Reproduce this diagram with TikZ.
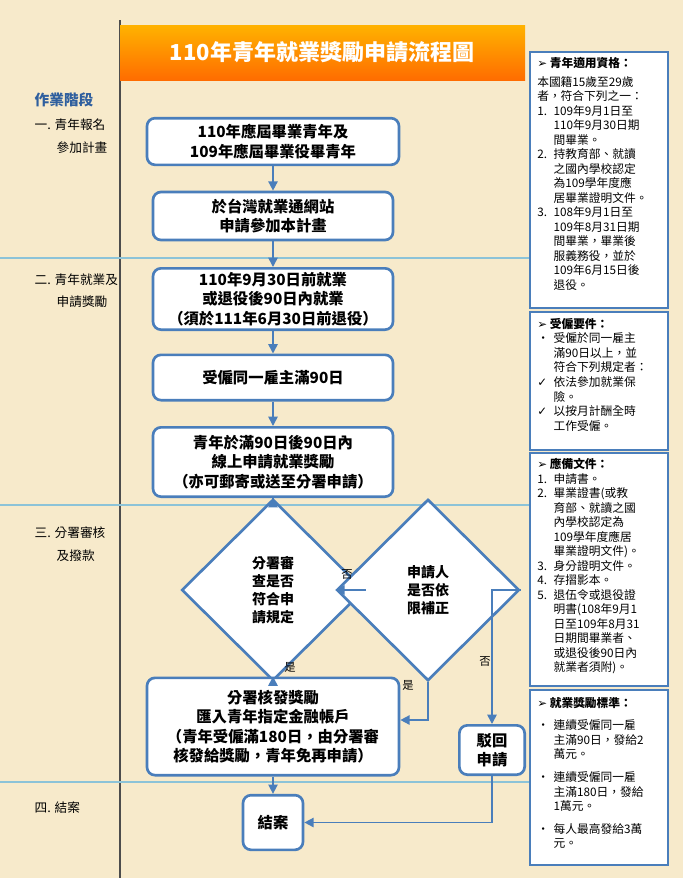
\documentclass[tikz,border=0pt]{standalone}
\usepackage{fontspec}
\setmainfont{Noto Sans CJK TC}
\newfontfamily\symf{DejaVu Sans}
\usetikzlibrary{arrows.meta,shapes.geometric}
\definecolor{bg}{HTML}{F7EACB}
\definecolor{bl}{HTML}{4A7EBB}
\definecolor{dbl}{HTML}{2F5F9E}
\definecolor{hl}{HTML}{8CC3D8}
\newcommand{\pitem}[2]{\makebox[1.4em][l]{#1}#2}
\newcommand{\pcont}[1]{\hspace*{1.4em}#1}
\newcommand{\parr}{{\symf ➢}}
\newcommand{\pchk}{{\symf ✓}}
\begin{document}
\begin{tikzpicture}[x=0.75pt,y=-0.75pt,
  box/.style={draw=bl,line width=2pt,rounded corners=6pt,fill=white,align=center,font=\fontsize{11.5}{14.5}\selectfont\bfseries,inner sep=2pt},
  dia/.style={draw=bl,line width=2pt,diamond,fill=white,align=center,font=\fontsize{10.5}{13.5}\selectfont\bfseries,inner sep=-12pt,minimum width=137,minimum height=136},
  pan/.style={draw=bl,line width=2pt,fill=white},
  ptx/.style={anchor=north west,align=left,font=\fontsize{8.8}{10.9}\selectfont,inner sep=0pt},
  arr/.style={draw=bl,line width=1.2pt,-{Triangle[length=7pt,width=7pt]}},
  lab/.style={font=\fontsize{9.5}{12}\selectfont,anchor=west},
  yn/.style={font=\fontsize{8.5}{10}\selectfont}]
\fill[bg] (0,0) rectangle (683,878);
\useasboundingbox (0,0) rectangle (683,878);
\draw[black!70,line width=0.8pt] (120,20) -- (120,878);
\foreach \y in {258,505,782} \draw[hl,line width=0.8pt] (0,\y) -- (530,\y);
\shade[top color=orange!60!yellow,bottom color=orange!85!red] (120,25) rectangle (525,80);
\node[text=white,font=\fontsize{16.5}{20}\selectfont\bfseries] (title) at (322,52) {110年青年就業獎勵申請流程圖};
\node[lab,text=dbl,font=\fontsize{11}{13}\selectfont\bfseries] (stage) at (30,100) {作業階段};
\node[lab] (s1a) at (30,125) {一. 青年報名};
\node[lab] (s1b) at (52,148) {參加計畫};
\node[lab] (s2a) at (30,280) {二. 青年就業及};
\node[lab] (s2b) at (52,302) {申請獎勵};
\node[lab] (s3a) at (30,533) {三. 分署審核};
\node[lab] (s3b) at (52,556) {及撥款};
\node[lab] (s4) at (30,808) {四. 結案};
\node[box,minimum width=189,minimum height=35] (b1) at (273,141.5) {110年應屆畢業青年及\\109年應屆畢業役畢青年};
\node[box,minimum width=180,minimum height=36] (b2) at (273,216) {於台灣就業通網站\\申請參加本計畫};
\node[box,minimum width=180,minimum height=46] (b3) at (273,299) {110年9月30日前就業\\或退役後90日內就業\\（須於111年6月30日前退役）};
\node[box,minimum width=180,minimum height=34] (b4) at (273,377.5) {受僱同一雇主滿90日};
\node[box,minimum width=180,minimum height=52] (b5) at (273,462) {青年於滿90日後90日內\\線上申請就業獎勵\\（亦可郵寄或送至分署申請）};
\node[dia] (d1) at (273,590) {分署審\\查是否\\符合申\\請規定};
\node[dia] (d2) at (428,590) {申請人\\是否依\\限補正};
\node[box,minimum width=189,minimum height=73] (b6) at (273,726.5) {分署核發獎勵\\匯入青年指定金融帳戶\\（青年受僱滿180日，由分署審\\核發給獎勵，青年免再申請）};
\node[box,minimum width=49,minimum height=37] (b7) at (492,750) {駁回\\申請};
\node[box,minimum width=45,minimum height=41] (b8) at (273,822.5) {結案};
\draw[arr] (b1) -- (b2);
\draw[arr] (b2) -- (b3);
\draw[arr] (b3) -- (b4);
\draw[arr] (b4) -- (b5);
\draw[arr] (b5) -- (d1);
\draw[arr] (d1.east) -- (d2.west);
\draw[arr] (d1.south) -- (b6.north);
\draw[arr] (d2.south) |- (b6.east |- 0,720);
\draw[arr] (d2.east) -| (b7.north);
\draw[arr] (b6) -- (b8);
\draw[arr] (b7.south) |- (b8.east);
\node[yn] (n1) at (347,575) {否};
\node[yn] (y1) at (290,667) {是};
\node[yn] (y2) at (408,685) {是};
\node[yn] (n2) at (485,662) {否};
% panels
\draw[pan] (530,52) rectangle (668,308);
\draw[pan] (530,312) rectangle (668,450);
\draw[pan] (530,453) rectangle (668,686);
\draw[pan] (530,690) rectangle (668,865);
\node[ptx] (p1) at (537,57) {{\bfseries\parr\ 青年適用資格：}\\[3pt]
本國籍15歲至29歲\\者，符合下列之一：\\
\pitem{1.}{109年9月1日至}\\\pcont{110年9月30日期}\\\pcont{間畢業。}\\
\pitem{2.}{持教育部、就讀}\\\pcont{之國內學校認定}\\\pcont{為109學年度應}\\\pcont{居畢業證明文件。}\\
\pitem{3.}{108年9月1日至}\\\pcont{109年8月31日期}\\\pcont{間畢業，畢業後}\\\pcont{服義務役，並於}\\\pcont{109年6月15日後}\\\pcont{退役。}};
\node[ptx] (p2) at (537,318) {{\bfseries\parr\ 受僱要件：}\\
\pitem{•}{受僱於同一雇主}\\\pcont{滿90日以上，並}\\\pcont{符合下列規定者：}\\
\pitem{\pchk}{依法參加就業保}\\\pcont{險。}\\
\pitem{\pchk}{以按月計酬全時}\\\pcont{工作受僱。}};
\node[ptx] (p3) at (537,458) {{\bfseries\parr\ 應備文件：}\\
\pitem{1.}{申請書。}\\
\pitem{2.}{畢業證書(或教}\\\pcont{育部、就讀之國}\\\pcont{內學校認定為}\\\pcont{109學年度應居}\\\pcont{畢業證明文件)。}\\
\pitem{3.}{身分證明文件。}\\
\pitem{4.}{存摺影本。}\\
\pitem{5.}{退伍令或退役證}\\\pcont{明書(108年9月1}\\\pcont{日至109年8月31}\\\pcont{日期間畢業者、}\\\pcont{或退役後90日內}\\\pcont{就業者須附)。}};
\node[ptx] (p4) at (537,697) {{\bfseries\parr\ 就業獎勵標準：}\\[6pt]
\pitem{•}{連續受僱同一雇}\\\pcont{主滿90日，發給2}\\\pcont{萬元。}\\[6pt]
\pitem{•}{連續受僱同一雇}\\\pcont{主滿180日，發給}\\\pcont{1萬元。}\\[6pt]
\pitem{•}{每人最高發給3萬}\\\pcont{元。}};
\end{tikzpicture}
\end{document}
